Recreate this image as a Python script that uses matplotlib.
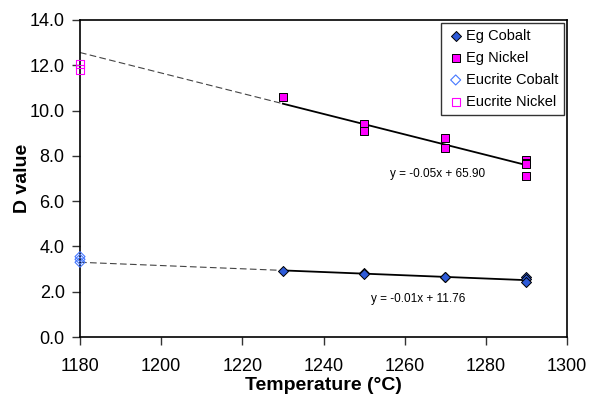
import numpy as np
import matplotlib.pyplot as plt

plt.rcParams['font.family'] = ['Liberation Sans', 'DejaVu Sans']

# Eg experiments
eg_temp_ni = [1230, 1250, 1250, 1270, 1270, 1290, 1290, 1290, 1290]
eg_ni = [10.6, 9.41, 9.10, 8.79, 8.35, 7.80, 7.70, 7.62, 7.11]
eg_temp_co = [1230, 1250, 1250, 1270, 1270, 1290, 1290, 1290]
eg_co = [2.91, 2.83, 2.80, 2.67, 2.63, 2.63, 2.55, 2.44]

# Eucrite experiments
euc_temp_ni = [1180, 1180]
euc_ni = [12.05, 11.82]
euc_temp_co = [1180, 1180, 1180]
euc_co = [3.55, 3.43, 3.30]

# trend lines (slope, intercept)
ni_fit = (-0.0452, 65.90)
co_fit = (-0.00717, 11.76)
ni_label = 'y = -0.05x + 65.90'
co_label = 'y = -0.01x + 11.76'

blue = '#2E5BD8'
magenta = '#FF00FF'

fig = plt.figure(figsize=(5.96, 3.94), dpi=100)
ax = fig.add_axes([80/596, 57/394, 487/596, 317/394])

def trend(x, fit, ax):
    m, b = fit
    xs = np.array([min(x), max(x)])
    ax.plot(xs, m*xs + b, color='black', lw=1.3, zorder=2)
    xd = np.array([1180, min(x)])
    ax.plot(xd, m*xd + b, color='#444444', lw=0.8, ls=(0, (6, 3)), zorder=2)

trend(eg_temp_ni, ni_fit, ax)
trend(eg_temp_co, co_fit, ax)

ax.scatter(eg_temp_co, eg_co, marker='D', s=26, facecolor=blue, edgecolor='black', lw=0.7, zorder=3, label='Eg Cobalt')
ax.scatter(eg_temp_ni, eg_ni, marker='s', s=36, facecolor=magenta, edgecolor='black', lw=0.7, zorder=3, label='Eg Nickel')
ax.scatter(euc_temp_co, euc_co, marker='D', s=26, facecolor='none', edgecolor='#4477FF', lw=0.8, zorder=3, label='Eucrite Cobalt', clip_on=False)
ax.scatter(euc_temp_ni, euc_ni, marker='s', s=36, facecolor='none', edgecolor=magenta, lw=0.8, zorder=3, label='Eucrite Nickel', clip_on=False)

ax.text(1268, 7.2, ni_label, fontsize=8.5, ha='center', va='center')
ax.text(1263.3, 1.68, co_label, fontsize=8.5, ha='center', va='center')

ax.set_xlim(1180, 1300)
ax.set_ylim(0, 14)
ax.set_xticks(range(1180, 1301, 20))
ax.set_yticks(np.arange(0, 14.1, 2))
ax.set_yticklabels([f'{v:.1f}' for v in np.arange(0, 14.1, 2)])
ax.tick_params(direction='out', length=6, width=1, labelsize=13, color='#333333')
ax.tick_params(axis='x', pad=9)
ax.tick_params(axis='y', pad=5)
for s in ax.spines.values():
    s.set_linewidth(1.2)

ax.set_xlabel('Temperature (°C)', fontsize=14, fontweight='bold')
ax.set_ylabel('D value', fontsize=14, fontweight='bold')
ax.xaxis.set_label_coords(0.5, -0.152)
ax.xaxis.label.set_va('center')
ax.yaxis.set_label_coords(-0.119, 0.5)
ax.yaxis.label.set_va('center')

leg = ax.legend(loc='upper right', fontsize=10.5, frameon=True, fancybox=False,
                edgecolor='black', handletextpad=0.1, handlelength=1.2,
                borderpad=0.4, labelspacing=0.55, borderaxespad=0.2, markerscale=1.0)
leg.get_frame().set_linewidth(1.0)

fig.savefig('out.png', dpi=100)
